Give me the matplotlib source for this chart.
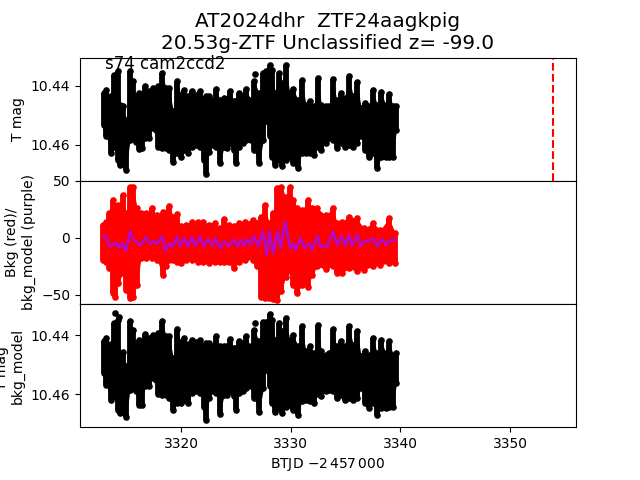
import numpy as np
import matplotlib
matplotlib.use('Agg')
import matplotlib.pyplot as plt

# time bins shared by the two magnitude panels
t_bins = [3312.97, 3313.21, 3313.58, 3313.94, 3314.24, 3314.48, 3314.70, 3315.00, 3315.36, 3315.61,
          3315.91, 3316.21, 3316.45, 3316.73, 3317.06, 3317.42, 3317.73, 3317.94, 3318.27, 3318.64,
          3318.94, 3319.30, 3319.64, 3320.00, 3320.30, 3320.64, 3320.97, 3321.36, 3321.73, 3322.06,
          3322.27, 3322.58, 3322.88, 3323.21, 3323.55, 3323.94, 3324.18, 3324.48, 3324.79, 3325.00,
          3325.30, 3325.61, 3325.91, 3326.36, 3326.67, 3327.12, 3327.52, 3327.73, 3328.09, 3328.33,
          3328.58, 3328.94, 3329.24, 3329.55, 3329.91, 3330.21, 3330.67, 3331.00, 3331.39, 3331.76,
          3332.12, 3332.48, 3332.79, 3333.18, 3333.48, 3333.85, 3334.18, 3334.55, 3334.91, 3335.30,
          3335.70, 3336.06, 3336.42, 3336.76, 3337.12, 3337.48, 3337.88, 3338.27, 3338.64, 3339.00,
          3339.33, 3339.64]

# top panel, brightest and faintest mag in each bin
tmag_hi = [10.4425, 10.4414, 10.4436, 10.4363, 10.4351, 10.4464, 10.4470, 10.4515, 10.4351, 10.4385,
           10.4442, 10.4425, 10.4431, 10.4402, 10.4419, 10.4408, 10.4425, 10.4402, 10.4357, 10.4408,
           10.4408, 10.4487, 10.4385, 10.4431, 10.4414, 10.4436, 10.4419, 10.4431, 10.4419, 10.4447,
           10.4436, 10.4434, 10.4447, 10.4411, 10.4447, 10.4442, 10.4447, 10.4419, 10.4453, 10.4453,
           10.4425, 10.4436, 10.4411, 10.4447, 10.4385, 10.4425, 10.4357, 10.4351, 10.4329, 10.4346,
           10.4425, 10.4357, 10.4391, 10.4329, 10.4425, 10.4411, 10.4447, 10.4380, 10.4464, 10.4453,
           10.4470, 10.4374, 10.4464, 10.4470, 10.4470, 10.4377, 10.4447, 10.4425, 10.4442, 10.4368,
           10.4436, 10.4388, 10.4476, 10.4459, 10.4470, 10.4414, 10.4464, 10.4423, 10.4464, 10.4428,
           10.4470, 10.4470]
tmag_lo = [10.4532, 10.4572, 10.4628, 10.4606, 10.4651, 10.4668, 10.4662, 10.4685, 10.4583, 10.4566,
           10.4589, 10.4615, 10.4611, 10.4577, 10.4577, 10.4544, 10.4549, 10.4606, 10.4611, 10.4611,
           10.4617, 10.4657, 10.4628, 10.4640, 10.4617, 10.4628, 10.4606, 10.4600, 10.4606, 10.4651,
           10.4698, 10.4623, 10.4600, 10.4606, 10.4662, 10.4606, 10.4611, 10.4594, 10.4617, 10.4662,
           10.4606, 10.4594, 10.4583, 10.4583, 10.4617, 10.4662, 10.4583, 10.4521, 10.4572, 10.4640,
           10.4668, 10.4651, 10.4673, 10.4651, 10.4640, 10.4662, 10.4679, 10.4628, 10.4628, 10.4628,
           10.4634, 10.4606, 10.4617, 10.4594, 10.4577, 10.4583, 10.4611, 10.4594, 10.4606, 10.4600,
           10.4606, 10.4594, 10.4572, 10.4617, 10.4640, 10.4628, 10.4679, 10.4640, 10.4640, 10.4640,
           10.4640, 10.4549]
tmag_extra_t = [3326.73]
tmag_extra_y = [10.4359]

# bottom panel, mag after the background model
corr_hi = [10.4421, 10.4410, 10.4429, 10.4359, 10.4348, 10.4461, 10.4459, 10.4506, 10.4354, 10.4382,
           10.4438, 10.4416, 10.4425, 10.4395, 10.4410, 10.4399, 10.4418, 10.4393, 10.4354, 10.4402,
           10.4405, 10.4478, 10.4380, 10.4425, 10.4410, 10.4429, 10.4416, 10.4425, 10.4416, 10.4441,
           10.4427, 10.4427, 10.4438, 10.4405, 10.4438, 10.4436, 10.4438, 10.4414, 10.4444, 10.4444,
           10.4421, 10.4427, 10.4405, 10.4438, 10.4384, 10.4419, 10.4357, 10.4357, 10.4328, 10.4348,
           10.4416, 10.4359, 10.4388, 10.4342, 10.4416, 10.4399, 10.4436, 10.4371, 10.4455, 10.4438,
           10.4461, 10.4365, 10.4455, 10.4467, 10.4461, 10.4380, 10.4438, 10.4421, 10.4438, 10.4368,
           10.4433, 10.4388, 10.4472, 10.4455, 10.4467, 10.4410, 10.4461, 10.4416, 10.4461, 10.4421,
           10.4467, 10.4461]
corr_lo = [10.4529, 10.4568, 10.4621, 10.4608, 10.4653, 10.4664, 10.4659, 10.4678, 10.4585, 10.4568,
           10.4591, 10.4636, 10.4636, 10.4574, 10.4574, 10.4546, 10.4551, 10.4599, 10.4602, 10.4602,
           10.4614, 10.4653, 10.4631, 10.4631, 10.4620, 10.4631, 10.4597, 10.4591, 10.4597, 10.4642,
           10.4687, 10.4614, 10.4591, 10.4597, 10.4667, 10.4602, 10.4602, 10.4588, 10.4608, 10.4653,
           10.4597, 10.4588, 10.4580, 10.4574, 10.4614, 10.4659, 10.4580, 10.4518, 10.4574, 10.4631,
           10.4659, 10.4648, 10.4664, 10.4642, 10.4636, 10.4653, 10.4670, 10.4625, 10.4620, 10.4625,
           10.4631, 10.4599, 10.4608, 10.4588, 10.4585, 10.4588, 10.4614, 10.4602, 10.4620, 10.4614,
           10.4620, 10.4614, 10.4580, 10.4631, 10.4648, 10.4631, 10.4670, 10.4648, 10.4648, 10.4642,
           10.4642, 10.4563]
corr_extra_t = [3314.03, 3314.33, 3326.73]
corr_extra_y = [10.4325, 10.4339, 10.4359]

# middle panel, background range
bkg_t = [3312.91, 3313.21, 3313.48, 3313.79, 3314.03, 3314.30, 3314.70, 3315.00, 3315.36, 3315.67,
         3316.00, 3316.36, 3316.82, 3317.33, 3317.82, 3318.33, 3318.64, 3318.94, 3319.30, 3319.61,
         3320.00, 3320.45, 3321.00, 3321.52, 3321.97, 3322.58, 3323.12, 3323.58, 3323.94, 3324.39,
         3324.85, 3325.30, 3325.85, 3326.52, 3326.97, 3327.33, 3327.64, 3328.03, 3328.39, 3328.79,
         3329.15, 3329.55, 3329.91, 3330.24, 3330.61, 3331.06, 3331.58, 3331.97, 3332.42, 3333.18,
         3333.85, 3334.24, 3334.70, 3335.30, 3336.00, 3336.67, 3337.52, 3338.18, 3338.94, 3339.55]
bkg_hi = [11.4, 14.3, 21.6, 33.3, 27.5, 29.0, 37.7, 21.6, 45.0, 45.0,
          26.0, 21.6, 21.6, 26.0, 20.0, 23.0, 21.6, 28.0, 18.7, 20.8,
          10.0, 11.4, 14.3, 14.3, 14.3, 11.4, 12.9, 8.5, 16.4, 11.4,
          10.0, 12.9, 14.3, 15.8, 12.9, 18.7, 29.0, 12.9, 21.6, 43.6,
          45.0, 36.0, 45.0, 33.0, 26.0, 24.6, 33.0, 26.0, 26.0, 20.0,
          26.0, 12.9, 14.3, 18.7, 17.3, 8.5, 12.9, 7.0, 17.3, 4.0]
bkg_lo = [-19.3, -20.8, -26.6, -48.5, -51.5, -40.0, -31.0, -45.6, -53.0, -51.5,
          -41.0, -17.8, -17.8, -17.8, -19.3, -32.5, -25.0, -19.3, -19.3, -20.8,
          -22.2, -19.3, -19.3, -20.8, -20.8, -22.2, -20.8, -20.8, -20.8, -20.8,
          -26.6, -20.8, -19.3, -19.3, -25.0, -51.5, -53.0, -53.0, -53.8, -54.4,
          -47.0, -34.0, -29.5, -41.0, -48.0, -41.0, -42.7, -32.5, -25.0, -27.5,
          -25.0, -31.0, -31.0, -26.6, -29.5, -28.0, -25.0, -23.7, -22.2, -22.2]

# background model line
model_t = [3312.91, 3313.18, 3313.48, 3313.79, 3314.09, 3314.39, 3314.70, 3315.00, 3315.36, 3315.70,
           3316.06, 3316.36, 3316.82, 3317.12, 3317.52, 3317.82, 3318.27, 3318.58, 3318.94, 3319.24,
           3319.64, 3319.94, 3320.30, 3320.67, 3321.00, 3321.27, 3321.73, 3322.06, 3322.48, 3322.88,
           3323.18, 3323.58, 3323.94, 3324.39, 3324.79, 3325.15, 3325.45, 3325.76, 3326.06, 3326.36,
           3326.67, 3327.06, 3327.48, 3327.82, 3328.09, 3328.42, 3328.79, 3329.09, 3329.48, 3329.94,
           3330.24, 3330.45, 3330.91, 3331.27, 3331.67, 3331.97, 3332.42, 3332.73, 3333.33, 3333.85,
           3334.24, 3334.61, 3335.00, 3335.30, 3335.61, 3336.06, 3336.36, 3336.82, 3337.12, 3337.52,
           3337.88, 3338.27, 3338.73, 3339.09, 3339.55]
model_y = [1.8, 0.6, -7.0, -6.1, -4.1, -9.1, -4.7, -11.1, 5.6, -1.8,
           -4.7, -6.1, 0.6, -5.3, -3.2, -5.3, 1.2, -11.1, -4.7, -7.6,
           1.2, -7.6, -0.3, -7.6, 0.6, -7.0, 1.2, -7.6, -1.2, -7.0,
           -0.3, -9.1, -3.2, -7.0, -1.2, -7.6, -1.8, -7.0, -1.2, -6.1,
           1.8, -7.6, 5.6, -14.9, 5.6, -13.5, 5.6, -9.1, 14.3, -9.1,
           -4.7, -10.5, -0.3, -9.1, -4.7, -10.5, 1.8, -7.6, -7.6, 5.6,
           -6.1, 1.2, -7.0, 2.6, -7.0, 2.6, -7.0, -2.3, -3.2, -0.3,
           -7.6, -1.2, -6.1, -1.8, -1.8]

event_time = 3353.87


def draw_range(ax, t, lo, hi, color):
    """Draw the range of a dense light curve: filled band, columns and end points."""
    ax.fill_between(t, lo, hi, color=color, lw=0)
    ax.vlines(t, lo, hi, colors=color, lw=4.2)
    ax.plot(t, lo, '.', color=color, ms=7.5)
    ax.plot(t, hi, '.', color=color, ms=7.5)


fig, axes = plt.subplots(3, 1, sharex=True, figsize=(6.4, 4.8), dpi=100)
plt.subplots_adjust(hspace=0)
ax1, ax2, ax3 = axes

# Top panel
draw_range(ax1, t_bins, tmag_lo, tmag_hi, 'k')
ax1.plot(tmag_extra_t, tmag_extra_y, 'k.', ms=7.5)
ax1.axvline(event_time, color='r', ls='--', lw=1.5)
ax1.set_ylim(10.4722, 10.4305)
ax1.set_yticks([10.44, 10.46])
ax1.set_ylabel('T mag')
ax1.text(3313.05, 10.4342, 's74 cam2ccd2', fontsize=12)
ax1.set_title('AT2024dhr  ZTF24aagkpig\n20.53g-ZTF Unclassified z= -99.0', fontsize=14.4)

# Middle panel
draw_range(ax2, bkg_t, bkg_lo, bkg_hi, 'r')
ax2.plot(model_t, model_y, color='#b00cc8', lw=2)
ax2.set_ylim(-58, 50)
ax2.set_yticks([50, 0, -50])
ax2.set_ylabel('Bkg (red)/\nbkg_model (purple)')

# Bottom panel
draw_range(ax3, t_bins, corr_lo, corr_hi, 'k')
ax3.plot(corr_extra_t, corr_extra_y, 'k.', ms=7.5)
ax3.set_ylim(10.4712, 10.4295)
ax3.set_yticks([10.44, 10.46])
ax3.set_ylabel('T mag \nbkg_model')
ax3.set_xlim(3310.8, 3356.0)
ax3.set_xticks([3320, 3330, 3340, 3350])
ax3.set_xlabel(r'BTJD $-2\,457\,000$')

ax1.tick_params(bottom=False)
ax2.tick_params(bottom=False)

plt.savefig('out.png', dpi=100)
plt.close()
